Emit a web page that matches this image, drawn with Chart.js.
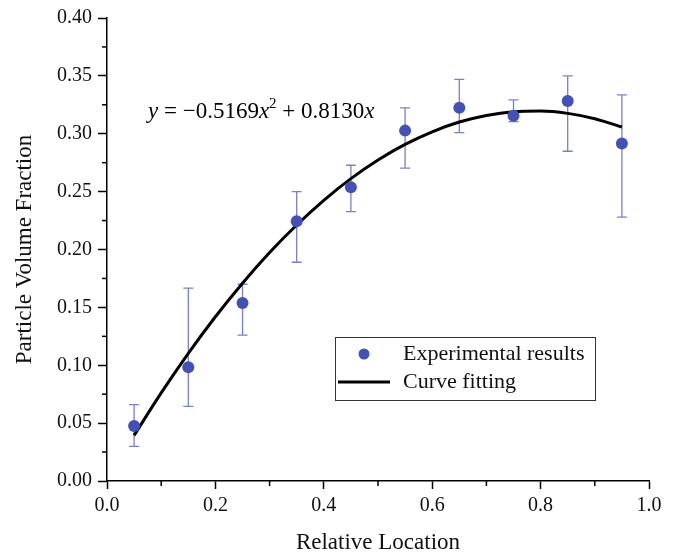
<!DOCTYPE html>
<html>
<head>
<meta charset="utf-8">
<script src="https://cdn.jsdelivr.net/npm/chart.js@4/dist/chart.umd.min.js"></script>
<style>
  body { margin: 0; background: #fff; }
  #wrap { width: 674px; height: 557px; }
</style>
</head>
<body>
<div id="wrap"><canvas id="myChart" width="674" height="557"></canvas></div>
<script>
// measured points (relative location vs volume fraction)
const locations = [0.05, 0.15, 0.25, 0.35, 0.45, 0.55, 0.65, 0.75, 0.85, 0.95];
const fractions = [0.0475, 0.0983, 0.1537, 0.2244, 0.2537, 0.3027, 0.3224, 0.3156, 0.3282, 0.2915];
const errLow    = [0.030, 0.0645, 0.1261, 0.189, 0.2328, 0.2703, 0.301, 0.3104, 0.2849, 0.2279];
const errHigh   = [0.066, 0.1666, 0.170, 0.250, 0.2728, 0.3224, 0.347, 0.3293, 0.350, 0.3336];

// fitted curve
const fitX = [0.05, 0.10, 0.15, 0.20, 0.25, 0.30, 0.35, 0.40, 0.45, 0.50, 0.55, 0.60, 0.65, 0.70, 0.75, 0.80, 0.85, 0.90, 0.95];
const fitY = [0.0394, 0.0761, 0.1103, 0.1419, 0.1709, 0.1974, 0.2212, 0.2425, 0.2612, 0.2773, 0.2908, 0.3017, 0.3101, 0.3158, 0.3190, 0.3196, 0.3176, 0.3130, 0.3058];

const xTickLabels = ['0.0', '0.2', '0.4', '0.6', '0.8', '1.0'];
const yTickLabels = ['0.00', '0.05', '0.10', '0.15', '0.20', '0.25', '0.30', '0.35', '0.40'];

const pointColor = '#4351b6';
const errColor = 'rgba(67, 81, 182, 0.72)';
const serif = "'Liberation Serif', 'Times New Roman', serif";

const errorBars = {
    id: 'errorBars',
    beforeDatasetsDraw(chart) {
        const ctx = chart.ctx;
        const xs = chart.scales.x, ys = chart.scales.y;
        ctx.save();
        ctx.strokeStyle = errColor;
        ctx.lineWidth = 1.3;
        locations.forEach((loc, i) => {
            const px = xs.getPixelForValue(loc);
            const top = ys.getPixelForValue(errHigh[i]);
            const bot = ys.getPixelForValue(errLow[i]);
            ctx.beginPath();
            ctx.moveTo(px, top); ctx.lineTo(px, bot);
            ctx.moveTo(px - 5, top); ctx.lineTo(px + 5, top);
            ctx.moveTo(px - 5, bot); ctx.lineTo(px + 5, bot);
            ctx.stroke();
        });
        ctx.restore();
    }
};

// short ticks for the unlabelled steps
const minorTicks = {
    id: 'minorTicks',
    afterDraw(chart) {
        const ctx = chart.ctx;
        const xs = chart.scales.x, ys = chart.scales.y;
        ctx.save();
        ctx.strokeStyle = '#000';
        ctx.lineWidth = 1.5;
        xs.ticks.forEach(t => {
            if (Math.round(t.value * 10) % 2 === 1) {
                const px = xs.getPixelForValue(t.value);
                ctx.beginPath();
                ctx.moveTo(px, xs.top); ctx.lineTo(px, xs.top + 5);
                ctx.stroke();
            }
        });
        ys.ticks.forEach(t => {
            if (Math.round(t.value * 40) % 2 === 1) {
                const py = ys.getPixelForValue(t.value);
                ctx.beginPath();
                ctx.moveTo(ys.right, py); ctx.lineTo(ys.right - 5, py);
                ctx.stroke();
            }
        });
        ctx.restore();
    }
};

const annotations = {
    id: 'annotations',
    afterDraw(chart) {
        const ctx = chart.ctx;
        ctx.save();
        // equation
        ctx.fillStyle = '#000';
        ctx.textBaseline = 'alphabetic';
        let x = 148;
        const base = 118;
        const parts = [
            ['italic', 23, 'y', 0],
            ['normal', 23, ' = \u22120.5169', 0],
            ['italic', 23, 'x', 0],
            ['normal', 15, '2', -10],
            ['normal', 23, ' + 0.8130', 0],
            ['italic', 23, 'x', 0]
        ];
        parts.forEach(p => {
            ctx.font = p[0] + ' ' + p[1] + 'px ' + serif;
            ctx.fillText(p[2], x, base + p[3]);
            x += ctx.measureText(p[2]).width;
        });

        // legend box
        const ds = chart.data.datasets;
        ctx.fillStyle = '#fff';
        ctx.fillRect(335, 337, 260, 63);
        ctx.strokeStyle = '#333';
        ctx.lineWidth = 1;
        ctx.strokeRect(335.5, 337.5, 260, 63);
        ctx.fillStyle = ds[0].backgroundColor;
        ctx.beginPath();
        ctx.arc(364, 354, 5.5, 0, Math.PI * 2);
        ctx.fill();
        ctx.strokeStyle = ds[1].borderColor;
        ctx.lineWidth = 3;
        ctx.beginPath();
        ctx.moveTo(338, 382); ctx.lineTo(390, 382);
        ctx.stroke();
        ctx.fillStyle = '#111';
        ctx.font = '22px ' + serif;
        ctx.textBaseline = 'middle';
        ctx.fillText(ds[0].label, 403, 354);
        ctx.fillText(ds[1].label, 403, 382);
        ctx.restore();
    }
};

const ctx = document.getElementById('myChart').getContext('2d');
new Chart(ctx, {
    data: {
        datasets: [{
            type: 'scatter',
            label: 'Experimental results',
            data: locations.map((v, i) => ({ x: v, y: fractions[i] })),
            backgroundColor: pointColor,
            borderWidth: 0,
            pointRadius: 6,
            order: 1
        }, {
            type: 'line',
            label: 'Curve fitting',
            data: fitX.map((v, i) => ({ x: v, y: fitY[i] })),
            borderColor: '#000',
            borderWidth: 3,
            pointRadius: 0,
            fill: false,
            cubicInterpolationMode: 'monotone',
            order: 2
        }]
    },
    options: {
        responsive: false,
        animation: false,
        devicePixelRatio: 1,
        layout: { padding: { top: 16, right: 25, bottom: 0, left: 0 } },
        plugins: {
            legend: { display: false },
            tooltip: { enabled: false }
        },
        scales: {
            x: {
                type: 'linear',
                min: 0, max: 1,
                afterFit: s => { s.height = 76; },
                border: { color: '#000', width: 1.5 },
                grid: {
                    drawOnChartArea: false,
                    tickLength: 8,
                    tickWidth: 1.5,
                    tickColor: c => Math.round(c.tick.value * 10) % 2 === 0 ? '#000' : 'rgba(0,0,0,0)'
                },
                ticks: {
                    stepSize: 0.1,
                    autoSkip: false,
                    maxRotation: 0,
                    padding: 5,
                    color: '#111',
                    font: { family: serif, size: 20 },
                    callback: v => {
                        const k = Math.round(v * 10);
                        return k % 2 === 0 ? xTickLabels[k / 2] : '';
                    }
                },
                title: {
                    display: true,
                    text: 'Relative Location',
                    color: '#111',
                    font: { family: serif, size: 23 },
                    padding: { top: 0, bottom: 0 }
                }
            },
            y: {
                type: 'linear',
                min: 0, max: 0.4,
                afterFit: s => { s.width = 107; },
                border: { color: '#000', width: 1.5 },
                grid: {
                    drawOnChartArea: false,
                    tickLength: 9,
                    tickWidth: 1.5,
                    tickColor: c => Math.round(c.tick.value * 40) % 2 === 0 ? '#000' : 'rgba(0,0,0,0)'
                },
                ticks: {
                    stepSize: 0.025,
                    autoSkip: false,
                    padding: 6,
                    color: '#111',
                    font: { family: serif, size: 20 },
                    callback: v => {
                        const k = Math.round(v * 40);
                        return k % 2 === 0 ? yTickLabels[k / 2] : '';
                    }
                },
                title: {
                    display: true,
                    text: 'Particle Volume Fraction',
                    color: '#111',
                    font: { family: serif, size: 23 },
                    padding: { top: 11, bottom: 0 }
                }
            }
        }
    },
    plugins: [errorBars, minorTicks, annotations]
});
</script>
</body>
</html>
